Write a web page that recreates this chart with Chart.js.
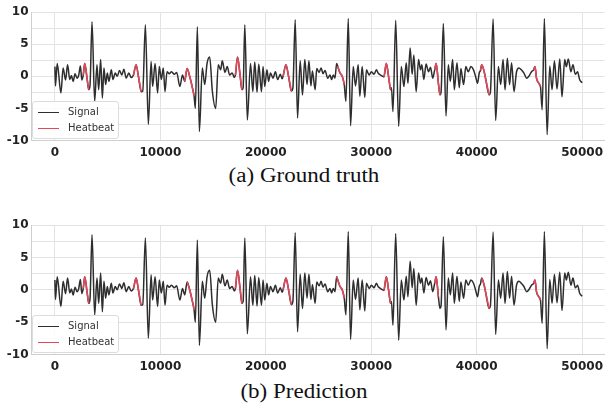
<!DOCTYPE html>
<html>
<head>
<meta charset="utf-8">
<script src="https://cdn.jsdelivr.net/npm/chart.js@4/dist/chart.umd.min.js"></script>
<style>
  body { margin: 0; width: 608px; height: 404px; background: #fff; overflow: hidden; position: relative; }
  canvas { position: absolute; left: 0; }
  #ca { top: 0; }
  #cb { top: 212px; }
  .cap { position: absolute; left: 0; width: 608px; text-align: center; font-family: "Liberation Serif", serif; font-size: 20px; line-height: 22px; color: #111; transform: scaleX(1.15); }
  .lg { position: absolute; left: 32px; width: 85px; height: 36px; background: rgba(255,255,255,0.85); border: 1px solid #dcdcdc; border-radius: 3px; font-family: "DejaVu Sans", sans-serif; font-size: 10px; color: #333; }
  .lg div { position: relative; height: 16px; line-height: 16px; padding-left: 35px; }
  .lg span { position: absolute; left: 5px; top: 8px; width: 21px; height: 0; border-top: 1.5px solid; }
</style>
</head>
<body>
<canvas id="ca" width="608" height="163"></canvas>
<div class="lg" id="la" style="top:101px"></div>
<div class="cap" style="top:164px">(a) Ground truth</div>
<canvas id="cb" width="608" height="165"></canvas>
<div class="lg" id="lb" style="top:315px"></div>
<div class="cap" style="top:380px">(b) Prediction</div>
<script>
// sample index of each vertex of the trace
const sampleX = [
  0, 50, 220, 570, 780, 1010, 1200, 1410, 1570, 1730, 1910, 2100, 2260, 2420, 2550, 2690, 2830, 3060, 3210, 3330, 3520, 3770, 3990, 4150, 4340, 4500, 4650, 4810, 4970, 5120, 5350, 5500, 5720, 5910, 6130, 6350, 6540, 6760, 7010, 7230, 7450, 7700, 7920, 8180, 8330, 8580, 8860,
  9120, 9270, 9500, 9740, 9900, 10090, 10280, 10440, 10630, 10840, 11060, 11320, 11550, 11850, 12100, 12310, 12540, 12780, 13040, 13200, 13320, 13510, 13700,
  13980, 14210, 14430, 14680, 14930, 15250, 15490, 15720, 15870, 16130, 16340, 16570, 16810, 17020, 17120, 17320, 17540, 17730, 17850, 18010, 18250,
  18550, 18770, 18950, 19170, 19330, 19590, 19740, 19900, 20110, 20270, 20440, 20680, 20910, 21120, 21380, 21550, 21640, 21910, 22160, 22420, 22570, 22790, 23010,
  23260, 23480, 23700, 23910, 24090, 24280, 24420, 24680, 24830, 25060, 25240, 25430, 25620, 25870, 26090, 26240, 26400, 26560, 26720, 26810, 27040, 27250, 27440, 27600, 27820, 28040,
  28290, 28510, 28760, 28920, 29140, 29390, 29540, 29800, 30020, 30270, 30490, 30650, 30960, 31210, 31430, 31640, 31830, 31920, 32060, 32320, 32600,
  32850, 33100, 33320, 33480, 33690, 33880, 34040, 34260, 34490, 34670, 34800, 34990, 35200, 35430, 35620, 35830, 36020, 36160, 36370, 36520, 36620, 36840, 37090,
  37310, 37500, 37720, 37880, 38130, 38350, 38500, 38760, 38970, 39200, 39450, 39700, 39920, 40080, 40240, 40360, 40480, 40710, 40860, 41180, 41300, 41560, 41800,
  42060, 42280, 42500, 42690, 42910, 43120, 43310, 43540, 43780, 44010, 44230, 44480, 44730, 44950, 45200, 45400, 45530, 45670, 45900, 46050, 46210, 46420, 46680,
  46930, 47150, 47370, 47620, 47880, 48090, 48350, 48500, 48690, 48940, 49130, 49350, 49570, 49760, 50000
];
const signalY = [
  1.5, -1.5, 2.0, -2.6, 1.3, -0.6, 1.8, -0.5, 0.1, -0.8, 0.4, -0.3, 0.2, 1.6, -0.6, 0.2, 2.0, -0.5, -2.1, -1.4, 8.5, -3.9, 1.8, -2.1, 2.6, -3.4, 1.3, -1.3, 0.5, -0.8, 1.0, -0.5, 0.5, 0.0, 0.9, 0.2, 1.1, -0.3, 0.5, -0.2, 0.2, 1.8, 0.0, -2.4, -2.3, 8.0, -7.5,
  2.3, -1.6, 2.0, -2.6, 1.5, -0.5, 1.3, -2.4, 0.7, 0.4, 0.7, 0.3, 0.6, -1.6, 0.2, -0.8, 1.2, 0.0, -1.8, -3.1, -5.0, 7.7, -8.6,
  1.3, -1.3, 2.0, 3.0, -2.3, -5.0, 1.8, 1.0, 2.4, 0.6, 1.5, 0.2, 0.5, -0.2, 0.2, 3.0, 0.5, -2.1, -1.8, 8.0, -6.8,
  2.0, -2.4, 2.2, -2.5, 1.9, -2.4, 1.5, -1.6, 1.0, -0.8, 0.5, -0.3, 0.7, -0.5, 0.3, -0.4, 0.0, 1.8, 0.0, -2.3, -1.8, 8.8, -6.5,
  2.4, -2.9, 2.6, -1.3, 2.4, -1.5, 0.8, -2.1, 1.2, 0.6, 1.3, 0.4, 0.9, -0.3, 0.2, -0.5, 0.2, -0.3, 2.0, 1.6, 0.5, 0.0, -1.3, -3.9, 9.0, -7.7,
  1.5, -1.5, 1.8, -3.1, 1.5, -3.3, 1.0, 0.2, 0.7, 0.3, 1.0, 0.5, 0.1, -0.1, 2.0, 0.0, -2.1, -1.8, -5.5, 8.7, -7.8,
  1.5, -1.6, 2.1, -1.1, 4.4, 0.3, 3.3, -2.4, 2.6, 1.0, 1.8, -0.5, 1.9, 0.7, 1.4, -0.3, 1.0, 2.0, -1.1, -2.9, -2.5, 8.2, -6.2,
  1.8, -0.8, 2.6, -2.1, 2.1, -1.8, 1.2, -1.3, 1.5, 0.7, 1.5, 1.0, -0.2, -1.1, 0.5, 0.9, 1.8, 0.7, -0.5, -2.9, -2.5, 8.9, -6.9,
  1.5, -1.3, 2.6, -2.1, 2.8, -1.3, 2.1, -2.4, 0.7, 1.3, 1.0, 0.5, -0.3, 0.0, 0.7, 1.0, 1.5, -0.3, -1.1, -1.6, -5.2, 9.0, -9.1,
  1.6, -2.1, 2.4, -2.0, 2.7, -3.2, 2.6, 1.5, 2.7, 0.7, 1.8, 0.3, 0.7, -0.5, -1.0
];

// heartbeat spans [start, end] in samples
const truthBeats = [[2690, 3210], [7450, 8180], [12310, 13200], [17120, 17730], [21640, 22420], [26810, 27440], [31210, 31830], [36020, 36520], [40360, 41180], [45400, 46050]];
const predBeats = [[2690, 3210], [7450, 8180], [12540, 13200], [17120, 17730], [21640, 22420], [26720, 27440], [31210, 31830], [36020, 36370], [40480, 41180], [45400, 46050]];

const xTicks = [0, 10000, 20000, 30000, 40000, 50000];
const yTicks = [-10, -7.5, -5, -2.5, 0, 2.5, 5, 7.5, 10];
const yLabels = ["-10", "", "-5", "", "0", "", "5", "", "10"];
const seriesNames = ["Signal", "Heatbeat"];
const black = "#2e2e2e";
const red = "#e4475a";

function beatPoints(ranges) {
  const pts = [];
  ranges.forEach(([a, b]) => {
    sampleX.forEach((x, i) => {
      if (x >= a && x <= b) pts.push({ x, y: signalY[i] });
    });
    pts.push({ x: b + 1, y: null });
  });
  return pts;
}

const tickFont = { family: "DejaVu Sans", size: 12, weight: "bold" };

function makeChart(id, ranges, padTop) {
  const ctx = document.getElementById(id).getContext("2d");
  return new Chart(ctx, {
    type: "line",
    data: {
      datasets: [
        {
          label: seriesNames[0],
          data: sampleX.map((x, i) => ({ x, y: signalY[i] })),
          borderColor: black,
          borderWidth: 1.5,
          cubicInterpolationMode: "monotone",
          order: 2,
        },
        {
          label: seriesNames[1],
          data: beatPoints(ranges),
          borderColor: red,
          borderWidth: 1.6,
          cubicInterpolationMode: "monotone",
          spanGaps: false,
          order: 1,
        },
      ],
    },
    options: {
      responsive: false,
      animation: false,
      layout: { padding: { top: padTop, right: 0, left: 0, bottom: 0 } },
      elements: { point: { radius: 0 } },
      plugins: { legend: { display: false }, tooltip: { enabled: false } },
      scales: {
        x: {
          type: "linear",
          min: -2220,
          max: 52150,
          afterBuildTicks: (s) => { s.ticks = xTicks.map((v) => ({ value: v })); },
          afterFit: (s) => { s.height = 22.5; },
          grid: { color: "#e3e3e3", drawTicks: false },
          border: { color: "#cfcfcf" },
          ticks: { padding: 5, color: "#222", font: tickFont, maxRotation: 0, autoSkip: false, callback: (v) => String(v) },
        },
        y: {
          min: -10,
          max: 10,
          afterBuildTicks: (s) => { s.ticks = yTicks.map((v) => ({ value: v })); },
          afterFit: (s) => { s.width = 31.5; },
          grid: { color: "#e3e3e3", drawTicks: false },
          border: { color: "#cfcfcf" },
          ticks: { padding: 3, color: "#222", font: tickFont, autoSkip: false, callback: (v, i) => yLabels[i] },
        },
      },
    },
  });
}

function fillLegend(id) {
  const el = document.getElementById(id);
  [black, red].forEach((c, i) => {
    const row = document.createElement("div");
    if (i === 0) row.style.marginTop = "2px";
    const s = document.createElement("span");
    s.style.borderColor = c;
    row.appendChild(s);
    row.appendChild(document.createTextNode(seriesNames[i]));
    el.appendChild(row);
  });
}

makeChart("ca", truthBeats, 12);
makeChart("cb", predBeats, 13);
fillLegend("la");
fillLegend("lb");
</script>
</body>
</html>
